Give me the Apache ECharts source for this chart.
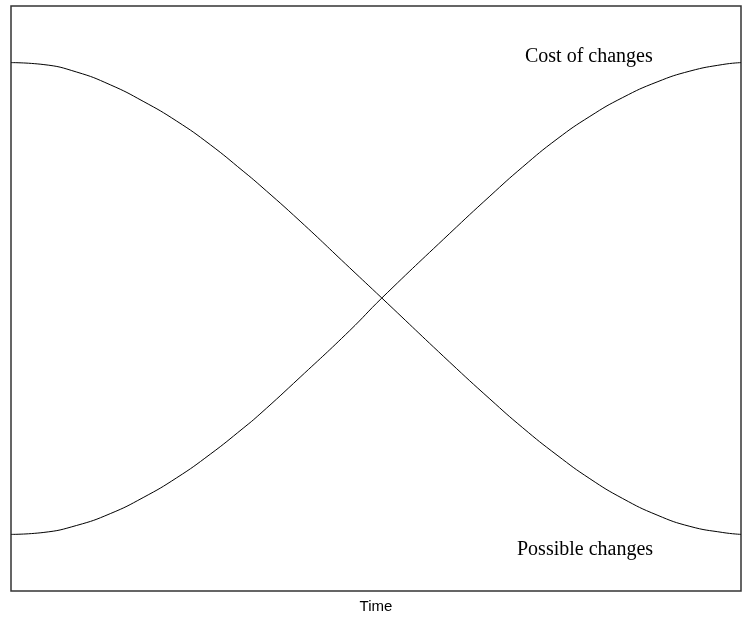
<!DOCTYPE html>
<html>
<head>
<meta charset="utf-8">
<script src="https://cdn.jsdelivr.net/npm/echarts@6/dist/echarts.min.js"></script>
<style>
    html, body {margin:0;padding:0;background:#fff;}
    #chart {width:744px;height:619px;}
</style>
</head>
<body>
<div id="chart"></div>
<script>
    // time (0 = start, 1 = end)
    var time = [0, 0.044, 0.090, 0.136, 0.181, 0.227, 0.273, 0.318, 0.341, 0.396, 0.464, 0.508,
                0.601, 0.656, 0.701, 0.748, 0.793, 0.838, 0.885, 0.930, 0.975, 1];
    var costOfChanges = [0, 0.004, 0.019, 0.044, 0.078, 0.120, 0.170, 0.225, 0.255, 0.333, 0.432, 0.501,
                0.638, 0.717, 0.779, 0.838, 0.886, 0.926, 0.959, 0.982, 0.996, 1];
    var possibleChanges = [1, 0.996, 0.980, 0.953, 0.918, 0.876, 0.826, 0.770, 0.740, 0.664, 0.565, 0.501,
                0.365, 0.287, 0.226, 0.168, 0.118, 0.076, 0.041, 0.017, 0.004, 0];
    var seriesNames = ['Cost of changes', 'Possible changes'];

    var chart = echarts.init(document.getElementById('chart'));

    var pairs = function (values) {
        return time.map(function (t, i) { return [t, values[i]]; });
    };

    var lineSeries = function (name, values) {
        return {
            name: name,
            type: 'line',
            data: pairs(values),
            smooth: true,
            showSymbol: false,
            lineStyle: {color: '#000', width: 1},
            silent: true
        };
    };

    chart.setOption({
        animation: false,
        grid: {
            left: 11, right: 3, top: 6, bottom: 28,
            outerBoundsMode: 'none',
            containLabel: false,
            show: true,
            borderColor: '#333',
            borderWidth: 1.5
        },
        xAxis: {
            type: 'value',
            min: 0,
            max: 1,
            name: 'Time',
            nameLocation: 'middle',
            nameGap: 8,
            nameTextStyle: {fontFamily: 'Liberation Sans', fontSize: 15, color: '#000'},
            axisLine: {show: false},
            axisTick: {show: false},
            axisLabel: {show: false},
            splitLine: {show: false}
        },
        yAxis: {
            type: 'value',
            min: -0.12,
            max: 1.12,
            axisLine: {show: false},
            axisTick: {show: false},
            axisLabel: {show: false},
            splitLine: {show: false}
        },
        graphic: [
            {
                type: 'text',
                left: 525,
                top: 47,
                style: {text: seriesNames[0], font: '20px "Liberation Serif"', fill: '#000'}
            },
            {
                type: 'text',
                left: 517,
                top: 540,
                style: {text: seriesNames[1], font: '20px "Liberation Serif"', fill: '#000'}
            }
        ],
        series: [
            lineSeries(seriesNames[0], costOfChanges),
            lineSeries(seriesNames[1], possibleChanges)
        ]
    });
</script>
</body>
</html>
